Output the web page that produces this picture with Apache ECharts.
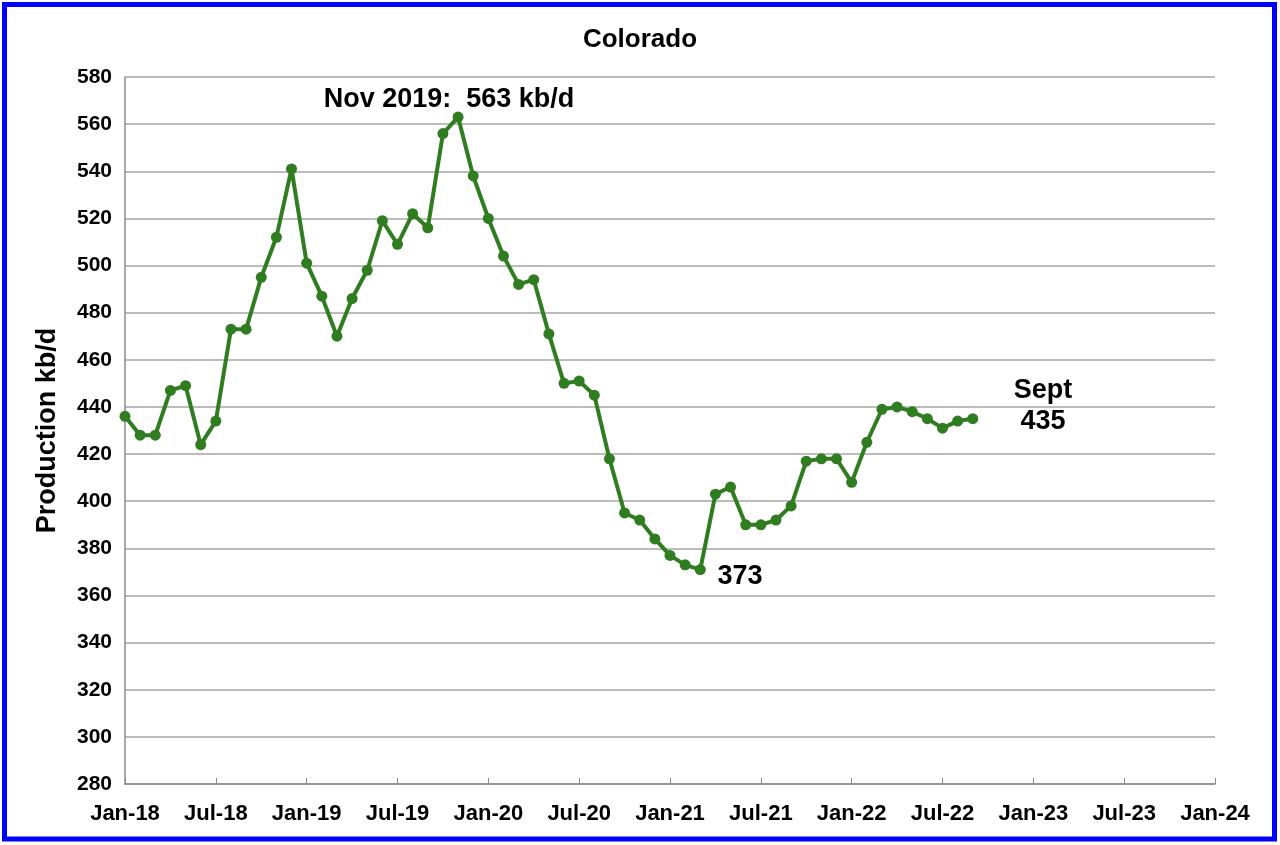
<!DOCTYPE html>
<html>
<head>
<meta charset="utf-8">
<script src="https://cdn.jsdelivr.net/npm/echarts@6/dist/echarts.min.js"></script>
<style>
  html, body { margin: 0; padding: 0; background: #fff; }
  #chart { width: 1280px; height: 845px; }
</style>
</head>
<body>
<div id="chart"></div>
<script>
// Month categories Jan-18 .. Jan-24
const monthNames = ['Jan','Feb','Mar','Apr','May','Jun','Jul','Aug','Sep','Oct','Nov','Dec'];
const categories = [];
for (let y = 18; y <= 24; y++) {
  for (let m = 0; m < 12; m++) {
    if (y === 24 && m > 0) break;
    categories.push(monthNames[m] + '-' + y);
  }
}

// Colorado oil production, kb/d (Jan-18 .. Sep-22)
const production = [
  436, 428, 428, 447, 449, 424, 434, 473, 473, 495, 512, 541,
  501, 487, 470, 486, 498, 519, 509, 522, 516, 556, 563, 538,
  520, 504, 492, 494, 471, 450, 451, 445, 418, 395, 392, 384,
  377, 373, 371, 403, 406, 390, 390, 392, 398, 417, 418, 418,
  408, 425, 439, 440, 438, 435, 431, 434, 435
];

const yTicks = { min: 280, max: 580, step: 20 };

const chart = echarts.init(document.getElementById('chart'), null, { renderer: 'canvas' });
const font = '"Liberation Sans", Arial, sans-serif';
const annoStyle = { fontFamily: font, fontWeight: 'bold', fontSize: 27, fill: '#000', textAlign: 'center', textVerticalAlign: 'middle' };

chart.setOption({
  backgroundColor: '#ffffff',
  animation: false,
  title: {
    text: 'Colorado',
    left: 'center',
    top: 22,
    textStyle: { fontFamily: font, fontWeight: 'bold', fontSize: 26, color: '#000' }
  },
  grid: { left: 125, right: 65, top: 77, bottom: 61, containLabel: false },
  xAxis: {
    type: 'category',
    data: categories,
    boundaryGap: false,
    axisLine: { lineStyle: { color: '#8c8c8c', width: 1.5 } },
    axisTick: { show: true, inside: true, length: 6, interval: 5, lineStyle: { color: '#8c8c8c' } },
    axisLabel: {
      interval: 5,
      margin: 19,
      fontFamily: font, fontWeight: 'bold', fontSize: 22, color: '#000'
    },
    splitLine: { show: false }
  },
  yAxis: {
    type: 'value',
    min: yTicks.min,
    max: yTicks.max,
    interval: yTicks.step,
    name: 'Production kb/d',
    nameLocation: 'middle',
    nameGap: 64,
    nameRotate: 90,
    nameTextStyle: { fontFamily: font, fontWeight: 'bold', fontSize: 27, color: '#000' },
    axisLine: { show: true, lineStyle: { color: '#8c8c8c', width: 1.5 } },
    axisTick: { show: false },
    axisLabel: { margin: 13, fontFamily: font, fontWeight: 'bold', fontSize: 21, color: '#000' },
    splitLine: { show: true, lineStyle: { color: '#a6a6a6', width: 1.5 } }
  },
  series: [{
    type: 'line',
    data: production,
    symbol: 'circle',
    symbolSize: 11,
    showAllSymbol: true,
    itemStyle: { color: '#2f7d20' },
    lineStyle: { color: '#2f7d20', width: 4 },
    z: 3
  }],
  graphic: [
    {
      type: 'rect',
      shape: { x: 4.5, y: 4.5, width: 1270, height: 834.5 },
      style: { fill: null, stroke: '#0000ff', lineWidth: 5 },
      silent: true
    },
    { type: 'text', x: 449, y: 100, style: Object.assign({ text: 'Nov 2019:  563 kb/d' }, annoStyle) },
    { type: 'text', x: 740, y: 577, style: Object.assign({ text: '373' }, annoStyle) },
    { type: 'text', x: 1043, y: 391, style: Object.assign({ text: 'Sept' }, annoStyle) },
    { type: 'text', x: 1043, y: 422, style: Object.assign({ text: '435' }, annoStyle) }
  ]
});
</script>
</body>
</html>
